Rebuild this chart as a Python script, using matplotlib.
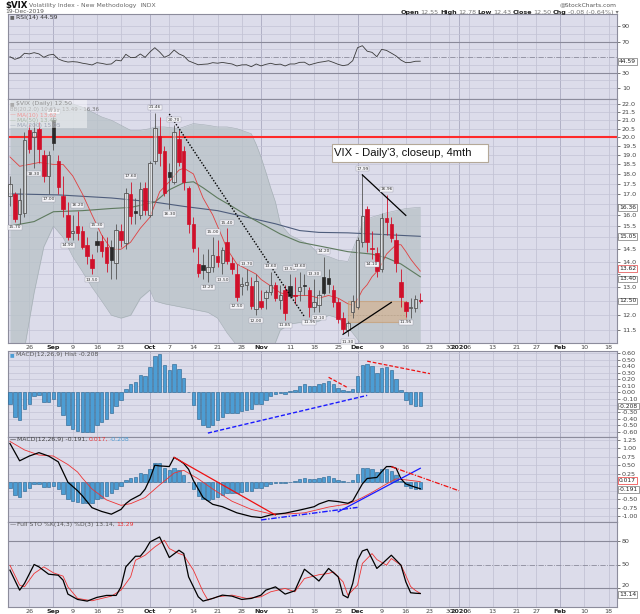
import numpy as np
import pandas as pd
import matplotlib
matplotlib.use("Agg")
import matplotlib.pyplot as plt
from matplotlib.patches import Rectangle
from matplotlib.ticker import NullLocator

# ---------------- calendar ----------------
first_day = "2019-08-20"
axis_end_day = "2020-02-21"
market_holidays = ["2019-09-02", "2019-11-28", "2019-12-25", "2020-01-01", "2020-01-20", "2020-02-17"]

# ---------------- $VIX daily candles, 20 Aug - 19 Dec 2019 ----------------
opens = [16.90, 17.00, 16.05, 16.10, 20.40, 20.00, 20.50, 19.00, 17.90, 21.00,
         18.70, 16.90, 16.00, 15.20, 15.50, 15.30, 14.70, 14.10, 14.85, 14.85,
         14.60, 14.60, 13.96, 15.30, 14.75, 17.00, 16.20, 16.00, 17.30, 16.00,
         18.70, 20.05, 19.20, 18.10, 17.60, 19.90, 19.20, 17.30, 15.60, 13.90,
         13.87, 13.60, 13.80, 14.22, 13.96, 14.80, 13.96, 13.50, 13.05, 13.10,
         13.05, 12.20, 12.50, 12.60, 12.83, 13.10, 12.55, 12.90, 13.06, 12.70,
         12.85, 13.10, 12.90, 12.30, 12.35, 13.40, 13.35, 12.90, 12.45, 11.90,
         11.50, 12.10, 12.30, 14.80, 16.30, 14.55, 14.35, 13.70, 15.85, 15.60,
         14.90, 13.20, 12.45, 12.25, 12.25, 12.55]
highs = [17.90, 17.10, 17.30, 20.30, 20.80, 20.90, 20.90, 19.30, 19.20, 21.20,
         19.00, 17.90, 16.60, 16.00, 16.20, 15.50, 15.00, 14.30, 15.30, 15.10,
         15.00, 14.90, 15.60, 15.60, 17.30, 17.60, 16.80, 17.60, 17.60, 18.70,
         21.46, 21.20, 19.50, 18.60, 20.70, 20.40, 19.50, 17.40, 15.90, 14.60,
         14.30, 14.50, 15.00, 14.90, 14.60, 15.40, 14.20, 13.90, 13.40, 13.70,
         13.40, 13.50, 12.90, 12.90, 13.60, 13.20, 13.10, 13.10, 13.50, 13.40,
         13.60, 13.50, 13.00, 13.30, 12.90, 14.20, 13.70, 13.10, 12.60, 12.10,
         11.80, 12.70, 15.00, 17.99, 16.40, 15.30, 14.60, 16.10, 16.96, 15.90,
         15.20, 13.70, 12.50, 12.60, 12.70, 12.78]
lows = [16.40, 15.70, 15.60, 15.90, 19.10, 18.30, 18.60, 17.60, 17.00, 19.30,
        17.00, 15.90, 14.90, 14.90, 14.90, 14.50, 13.90, 13.50, 14.40, 14.20,
        13.60, 13.30, 13.30, 14.60, 14.50, 15.60, 15.60, 15.80, 16.00, 15.90,
        18.50, 18.40, 16.90, 16.30, 17.50, 18.40, 17.20, 15.20, 14.40, 13.40,
        13.30, 13.20, 13.60, 13.80, 13.50, 13.90, 13.50, 12.50, 12.70, 12.90,
        12.20, 12.00, 12.20, 12.20, 12.70, 12.50, 12.20, 11.85, 12.60, 12.40,
        12.50, 12.70, 11.95, 12.10, 12.10, 12.70, 12.80, 12.30, 11.75, 11.40,
        11.30, 11.90, 12.20, 14.60, 14.40, 14.10, 13.40, 13.60, 15.10, 14.80,
        13.60, 12.30, 11.95, 11.90, 12.10, 12.43]
closes = [17.50, 15.80, 16.68, 19.87, 19.32, 20.31, 19.35, 17.88, 18.98, 19.66,
          17.33, 16.27, 15.00, 15.27, 15.20, 14.61, 14.22, 13.74, 14.67, 14.44,
          13.95, 14.05, 15.32, 14.91, 17.05, 15.96, 16.07, 17.22, 16.24, 18.56,
          20.56, 19.12, 17.04, 17.86, 20.28, 18.64, 17.57, 15.58, 14.57, 13.54,
          13.68, 13.79, 14.25, 14.00, 14.46, 14.01, 13.71, 12.65, 13.11, 13.20,
          12.33, 13.22, 12.30, 12.83, 13.10, 12.62, 12.73, 12.07, 12.69, 12.68,
          13.00, 13.05, 12.30, 12.46, 12.70, 12.78, 13.13, 12.45, 11.87, 11.54,
          11.75, 12.50, 14.91, 15.96, 14.80, 14.52, 13.62, 15.86, 15.68, 14.99,
          13.94, 12.63, 12.14, 12.29, 12.58, 12.50]

# ---------------- overlays (None = not read for that day) ----------------
N_ = None
ma10 = [18.9, N_, 18.4, N_, 18.5, N_, 18.6, N_, N_, 18.5,
        N_, 18.5, N_, 17.9, N_, 17.0, N_, 16.0, N_, 15.1,
        N_, 14.5, N_, 14.5, N_, 14.8, N_, 15.4, N_, 15.9,
        N_, 17.1, N_, 17.6, N_, 18.2, 18.3, N_, 18.0, N_,
        16.8, N_, 16.0, N_, 15.0, 14.5, N_, 13.9, N_, 13.7,
        N_, 13.5, 13.3, N_, 13.05, N_, 12.8, N_, 12.7, N_,
        12.7, N_, 12.7, N_, 12.6, N_, 12.7, N_, 12.6, N_,
        12.4, 12.35, 12.55, 12.9, 13.1, 13.4, 13.6, 13.9, 14.3, 14.5,
        14.69, 14.69, 14.41, 14.1, 13.85, 13.62]
ma50 = [15.5, N_, N_, N_, N_, 15.7, N_, N_, N_, 16.15,
        N_, N_, N_, N_, N_, 16.2, N_, N_, N_, N_,
        N_, 16.3, N_, N_, N_, 16.35, N_, N_, N_, N_,
        16.6, N_, N_, 17.2, N_, N_, 17.55, N_, 17.6, N_,
        17.3, N_, N_, 16.8, N_, N_, 16.4, N_, N_, N_,
        15.85, N_, N_, 15.5, N_, N_, 15.15, N_, N_, N_,
        14.8, N_, N_, N_, N_, 14.6, N_, N_, N_, N_,
        14.4, N_, N_, N_, N_, 14.3, N_, N_, 14.15, N_,
        N_, 13.9, N_, N_, N_, 13.4]
ma200 = [17.0, N_, N_, N_, N_, N_, N_, N_, N_, N_,
         16.95, N_, N_, N_, N_, N_, N_, N_, N_, N_,
         N_, 16.8, N_, N_, N_, N_, N_, N_, N_, N_,
         16.6, N_, N_, N_, N_, N_, 16.4, N_, N_, N_,
         N_, N_, N_, 16.2, N_, N_, N_, N_, N_, N_,
         15.85, N_, N_, N_, N_, 15.6, N_, N_, N_, N_,
         15.3, N_, N_, N_, 15.22, N_, N_, N_, N_, N_,
         15.2, N_, N_, N_, N_, N_, N_, N_, 15.12, N_,
         N_, N_, N_, N_, N_, 15.05]
bb_upper = [23.5, N_, N_, 23.2, N_, 23.0, N_, 22.6, N_, 22.3,
            N_, 22.2, N_, 22.0, N_, 21.8, N_, 21.5, N_, 21.2,
            N_, 21.0, N_, 20.7, N_, 20.4, N_, 20.4, N_, 20.5,
            20.6, N_, 20.6, N_, N_, 20.5, N_, N_, 20.8, N_,
            N_, 20.7, N_, 20.6, N_, 20.6, N_, 20.5, 20.4, N_,
            20.2, 19.6, 18.9, 18.1, 17.3, 16.6, 15.6, N_, 15.1, N_,
            14.9, N_, 14.7, N_, 14.3, N_, 14.2, N_, 14.05, N_,
            14.0, 14.5, 15.0, 15.6, 15.8, 15.9, N_, N_, 16.1, N_,
            N_, N_, 16.3, N_, N_, 16.36]
bb_lower = [10.2, N_, N_, 10.9, N_, 12.8, N_, 14.6, N_, 15.5,
            N_, 15.0, N_, 14.2, N_, 13.6, N_, 13.0, N_, 12.5,
            N_, 12.0, N_, 11.9, N_, 12.0, N_, 12.6, N_, 12.9,
            12.5, N_, 12.4, N_, N_, 12.3, N_, N_, 12.2, N_,
            N_, 12.1, N_, 11.9, N_, 11.4, N_, 11.0, 10.9, N_,
            10.5, 10.3, 10.2, 10.4, 10.8, 11.1, 11.5, N_, 11.7, N_,
            11.75, N_, 11.7, N_, 11.8, N_, 12.0, N_, 11.9, N_,
            11.6, 11.4, 11.2, 11.0, 10.8, 10.7, N_, N_, 10.5, N_,
            N_, N_, 10.5, N_, N_, 10.61]
resistance_level = 20.0

# ---------------- indicators ----------------
rsi = [50.4, 47.0, 49.0, 54.8, 54.0, 55.6, 54.0, 49.6, 52.5, 53.5,
       47.5, 45.0, 43.5, 44.0, 43.5, 42.0, 41.0, 39.7, 42.7, 41.8,
       40.5, 41.0, 46.0, 45.0, 53.5, 49.2, 49.6, 53.9, 49.6, 56.5,
       62.0, 56.5, 49.6, 52.5, 59.0, 54.0, 51.3, 45.0, 42.5, 40.0,
       40.6, 41.0, 42.7, 42.0, 43.0, 42.0, 41.0, 38.4, 39.8, 40.0,
       37.5, 41.0, 38.5, 40.5, 41.9, 40.3, 40.8, 38.4, 41.0, 41.0,
       43.1, 43.3, 39.7, 41.5, 43.1, 44.0, 45.2, 43.0, 40.5, 38.8,
       40.0, 45.2, 62.0, 64.6, 57.5, 56.0, 50.4, 59.9, 58.5, 55.0,
       51.3, 46.0, 42.7, 43.1, 44.5, 44.59]
macd_hist = [-0.17, -0.375, -0.425, -0.25, -0.17, -0.055, -0.04, -0.145, -0.14, -0.10,
             -0.21, -0.35, -0.50, -0.56, -0.59, -0.60, -0.60, -0.60, -0.50, -0.45,
             -0.40, -0.32, -0.21, -0.12, 0.055, 0.12, 0.155, 0.26, 0.25, 0.385,
             0.56, 0.58, 0.42, 0.345, 0.425, 0.36, 0.22, 0.005, -0.20, -0.40,
             -0.50, -0.53, -0.49, -0.42, -0.375, -0.32, -0.31, -0.32, -0.29, -0.265,
             -0.255, -0.18, -0.18, -0.12, -0.055, -0.03, -0.01, -0.02, 0.015, 0.04,
             0.09, 0.13, 0.09, 0.09, 0.13, 0.14, 0.17, 0.12, 0.07, 0.03,
             0.015, 0.055, 0.245, 0.41, 0.425, 0.395, 0.30, 0.375, 0.385, 0.335,
             0.21, 0.03, -0.11, -0.18, -0.21, -0.208]
macd_line = [1.14, N_, 0.63, N_, 0.77, N_, 0.87, N_, 0.77, N_,
             0.60, 0.30, 0.00, N_, -0.25, -0.40, N_, -0.75, N_, -0.86,
             N_, -0.94, N_, -0.80, -0.63, -0.52, N_, -0.37, -0.20, 0.10,
             0.50, 0.48, 0.47, 0.46, 0.73, 0.65, 0.55, 0.38, 0.05, -0.20,
             -0.45, -0.55, -0.65, N_, -0.72, N_, N_, -0.90, N_, N_,
             -1.01, N_, -1.04, N_, -0.96, N_, N_, -0.91, N_, N_,
             -0.82, N_, N_, -0.72, -0.64, N_, -0.54, N_, -0.57, N_,
             -0.62, -0.55, -0.30, -0.05, 0.11, N_, 0.14, 0.31, 0.46, 0.46,
             0.41, 0.10, -0.05, -0.10, -0.15, -0.191]
macd_signal = [1.20, N_, N_, 0.95, N_, N_, 0.80, N_, N_, 0.77,
               N_, N_, 0.52, N_, 0.30, 0.12, N_, -0.20, N_, N_,
               -0.52, N_, N_, -0.68, N_, -0.63, N_, N_, -0.45, N_,
               N_, -0.08, N_, N_, 0.27, N_, 0.35, N_, N_, 0.10,
               N_, N_, -0.20, N_, N_, N_, -0.56, N_, N_, N_,
               -0.80, N_, N_, N_, -0.93, N_, N_, N_, -0.93, N_,
               N_, -0.90, N_, N_, -0.80, N_, -0.73, N_, N_, N_,
               -0.64, N_, -0.52, -0.45, N_, -0.30, N_, N_, -0.05, N_,
               0.10, N_, 0.07, N_, N_, 0.017]
sto_k = [42.8, N_, 17.4, 25.9, N_, 50.0, 47.0, N_, 37.7, N_,
         36.4, 30.1, 12.4, N_, 5.6, N_, 3.5, N_, 8.2, N_,
         10.7, N_, 10.7, 21.6, 47.0, N_, 60.5, 60.5, 68.1, 78.6,
         N_, 85.0, N_, 58.9, N_, 68.1, 63.9, 34.3, N_, 9.0,
         3.5, N_, 6.9, N_, 11.1, N_, 9.8, N_, 5.6, N_,
         6.9, N_, 11.1, 17.4, N_, 21.6, N_, 12.4, N_, 16.6,
         N_, 44.0, N_, 34.3, 29.0, N_, 45.0, N_, 34.3, 11.1,
         7.7, 25.9, 55.4, 67.2, 69.4, N_, 45.0, 50.4, N_, 61.8,
         N_, 49.1, 28.0, 14.1, 13.5, 13.14]
sto_d = [49.0, N_, 23.8, 21.6, N_, 38.6, N_, 47.0, N_, 39.4,
         N_, 35.2, 21.6, N_, 6.9, N_, N_, 3.9, N_, 6.9,
         N_, 9.8, N_, 17.4, N_, 34.3, 55.4, N_, 61.8, N_,
         72.3, N_, 80.8, 70.3, N_, 63.9, 61.8, N_, 42.8, N_,
         15.3, 4.8, N_, 9.0, N_, N_, 11.1, N_, N_, 6.9,
         N_, N_, 9.0, N_, 15.3, N_, N_, 19.6, N_, 15.3,
         N_, 32.2, N_, N_, 37.0, N_, 38.6, 40.6, N_, 28.0,
         11.1, N_, 23.8, 51.3, N_, 63.9, 56.3, N_, 49.1, 57.6,
         N_, 49.1, 36.0, 22.0, 17.0, 13.29]

# ---------------- hand-drawn annotations (date, value) ----------------
main_dotted_trend = (["2019-10-07", "2019-11-14"], [21.38, 11.95])
main_upper_trend = (["2019-12-03", "2019-12-16"], [17.95, 15.98])
main_lower_trend = (["2019-11-26", "2019-12-11"], [11.36, 12.45])
main_zone = (["2019-11-27", "2019-12-16"], [11.76, 12.49])
hist_blue_trend = (["2019-10-17", "2019-12-04"], [-0.62, -0.046])
hist_red_short = (["2019-11-21", "2019-11-27"], [0.23, 0.07])
hist_red_long = (["2019-12-04", "2019-12-23"], [0.475, 0.285])
macd_red_trend = (["2019-10-08", "2019-11-06"], [0.73, -0.965])
macd_blue_dashdot = (["2019-11-01", "2019-12-02"], [-1.11, -0.74])
macd_blue_trend = (["2019-11-25", "2019-12-19"], [-0.87, 0.41])
macd_red_dashdot = (["2019-12-11", "2020-01-02"], [0.456, -0.25])

high_label_days = [9, 14, 18, 25, 30, 34, 42, 45, 49, 54, 58, 60, 63, 65, 73, 78]
low_label_days = [1, 5, 8, 12, 17, 33, 41, 44, 47, 51, 57, 62, 64, 70, 75, 82]

# ---------------- axis ticks ----------------
tick_dates = ["2019-08-26", "2019-09-03", "2019-09-09", "2019-09-16", "2019-09-23",
              "2019-10-01", "2019-10-07", "2019-10-14", "2019-10-21", "2019-10-28",
              "2019-11-01", "2019-11-11", "2019-11-18", "2019-11-25", "2019-12-02",
              "2019-12-09", "2019-12-16", "2019-12-23", "2019-12-30", "2020-01-02",
              "2020-01-06", "2020-01-13", "2020-01-21", "2020-01-27", "2020-02-03",
              "2020-02-10", "2020-02-18"]
tick_labels = ["26", "Sep", "9", "16", "23", "Oct", "7", "14", "21", "28", "Nov", "11",
               "18", "25", "Dec", "9", "16", "23", "30", "2020", "6", "13", "21", "27",
               "Feb", "10", "18"]
bold_labels = ["Sep", "Oct", "Nov", "Dec", "2020", "Feb"]
main_ticks = [11.5, 12.0, 12.5, 13.0, 13.5, 14.0, 14.5, 15.0, 15.5, 16.0, 16.5, 17.0,
              17.5, 18.0, 18.5, 19.0, 19.5, 20.0, 20.5, 21.0, 21.5, 22.0]
main_ticks_under_boxes = [12.5, 13.5, 15.0, 16.5]
rsi_ticks = [90, 70, 30, 10]
rsi_grid = [10, 20, 40, 60, 80, 90]
hist_ticks = [0.6, 0.5, 0.4, 0.3, 0.2, 0.1, 0.0, -0.1, -0.3, -0.4, -0.5, -0.6]
hist_grid = [0.6, 0.5, 0.4, 0.3, 0.2, 0.1, 0.0, -0.1, -0.2, -0.3, -0.4, -0.5, -0.6]
macd_ticks = [1.25, 1.0, 0.75, 0.5, 0.25, -0.5, -0.75, -1.0]
macd_grid = [1.25, 1.0, 0.75, 0.5, 0.25, 0.0, -0.25, -0.5, -0.75, -1.0]
sto_ticks = [80, 50, 20]

# ================= drawing =================
cal = pd.bdate_range(first_day, axis_end_day, freq="C", holidays=market_holidays)


def pos(d):
    return cal.get_loc(pd.Timestamp(d))


def pts(series):
    xs = [i for i, v in enumerate(series) if v is not None]
    return xs, [series[i] for i in xs]


W, H = 640, 614
fig = plt.figure(figsize=(W / 100, H / 100), dpi=100)
fig.patch.set_facecolor("white")


def rect(x0, y0, x1, y1):
    return [x0 / W, 1 - y1 / H, (x1 - x0) / W, (y1 - y0) / H]


BG = "#dcdcea"
GRID = "#c3c3d5"
GRID_M = "#a9a9bf"
TXT = "#444444"

ax_rsi = fig.add_axes(rect(8, 14, 617, 99))
ax_main = fig.add_axes(rect(8, 99, 617, 343))
ax_hist = fig.add_axes(rect(8, 351, 617, 437))
ax_macd = fig.add_axes(rect(8, 437, 617, 522))
ax_sto = fig.add_axes(rect(8, 522, 617, 607))
axes = [ax_rsi, ax_main, ax_hist, ax_macd, ax_sto]

tick_pos = [pos(d) for d in tick_dates]
n = len(closes)
x = np.arange(n)

for ax in axes:
    ax.set_facecolor(BG)
    ax.set_xlim(-0.41, 125.75)
    for s in ax.spines.values():
        s.set_color("#8c8c9c")
        s.set_linewidth(0.8)
    ax.yaxis.tick_right()
    ax.tick_params(axis="y", labelsize=4.6, colors=TXT, length=2, width=0.5, pad=1.5)
    ax.tick_params(axis="x", length=0, labelsize=4.6, colors=TXT, pad=1.2)
    for p, lab in zip(tick_pos, tick_labels):
        ax.axvline(p, color=GRID_M if lab in bold_labels else GRID, lw=0.6, zorder=0.5)
    ax.set_xticks(tick_pos)
    if ax in (ax_main, ax_sto):
        ax.set_xticklabels(tick_labels)
        for t in ax.get_xticklabels():
            if t.get_text() in bold_labels:
                t.set_fontweight("bold")
                t.set_color("#222222")
    else:
        ax.set_xticklabels([])

# ---------- RSI ----------
ax_rsi.set_ylim(-4.2, 105.5)
for lv in rsi_grid:
    ax_rsi.axhline(lv, color=GRID, lw=0.5, zorder=0.5)
for lv in [70, 30]:
    ax_rsi.axhline(lv, color="#8a8a9a", lw=0.8, zorder=0.6)
ax_rsi.axhline(50, color="#8a8a9a", lw=0.6, ls="-.", zorder=0.6)
ax_rsi.plot(x, rsi, color="#3a3a3a", lw=0.6, zorder=3)
ax_rsi.set_yticks(rsi_ticks)
ax_rsi.set_yticklabels([str(v) for v in rsi_ticks])

# ---------- main price ----------
ax_main.set_yscale("log")
ax_main.set_ylim(11.08, 22.32)
ax_main.set_yticks(main_ticks)
ax_main.set_yticklabels(["" if v in main_ticks_under_boxes else "%.1f" % v for v in main_ticks])
ax_main.yaxis.set_minor_locator(NullLocator())
for lv in main_ticks:
    ax_main.axhline(lv, color=GRID, lw=0.5, zorder=0.5)

bx, bu = pts(bb_upper)
_, bl = pts(bb_lower)
ax_main.fill_between(bx, bl, bu, color="#b8c2c7", alpha=0.75, lw=0, zorder=1)
ax_main.plot(bx, bu, color="#a3adb3", lw=0.4, zorder=1.1)
ax_main.plot(bx, bl, color="#a3adb3", lw=0.4, zorder=1.1)

ax_main.axhline(resistance_level, color="#ff2a2a", lw=1.5, zorder=2.5)

mx, my = pts(ma200)
ax_main.plot(mx, my, color="#4e5d7c", lw=0.8, zorder=2)
mx, my = pts(ma50)
ax_main.plot(mx, my, color="#5e7a5e", lw=0.8, zorder=2)
mx, my = pts(ma10)
ax_main.plot(mx, my, color="#e04040", lw=0.6, zorder=2.1)

RED = "#d0102a"
for i in range(n):
    o, h, l, c = opens[i], highs[i], lows[i], closes[i]
    prev = closes[i - 1] if i > 0 else o
    col = RED if c < prev else "#2a2a2a"
    wick = RED if c < prev else "#555555"
    ax_main.vlines(i, l, h, color=wick, lw=0.6, zorder=3)
    lo_b, hi_b = min(o, c), max(o, c)
    if hi_b - lo_b < 0.04:
        hi_b = lo_b + 0.04
    if c > o:
        ax_main.bar(i, hi_b - lo_b, bottom=lo_b, width=0.72, facecolor=(1, 1, 1, 0.45),
                    edgecolor=col if col == RED else "#555555", lw=0.6, zorder=3.2)
    else:
        ax_main.bar(i, hi_b - lo_b, bottom=lo_b, width=0.72, facecolor=col,
                    edgecolor=col, lw=0.5, zorder=3.2)

lab_box = dict(boxstyle="square,pad=0.12", fc="#f4f4f8", ec="#9a9aa8", lw=0.3)
for i in high_label_days:
    ax_main.annotate("%.2f" % highs[i], (i, highs[i]), xytext=(0, 2.5), textcoords="offset points",
                     ha="center", va="bottom", fontsize=3.2, color="#333", bbox=lab_box, zorder=6)
for i in low_label_days:
    ax_main.annotate("%.2f" % lows[i], (i, lows[i]), xytext=(0, -2.5), textcoords="offset points",
                     ha="center", va="top", fontsize=3.2, color="#333", bbox=lab_box, zorder=6)

zx = [pos(d) for d in main_zone[0]]
ax_main.add_patch(Rectangle((zx[0], main_zone[1][0]), zx[1] - zx[0], main_zone[1][1] - main_zone[1][0],
                            facecolor="#d8b088", alpha=0.6, edgecolor="#c89868", lw=0.8, zorder=2.6))
ax_main.plot([zx[0], zx[1]], [sum(main_zone[1]) / 2 - 0.12] * 2, color="#a08870", lw=0.4, ls=":", zorder=2.7)


def trend(ax, tr, **kw):
    ax.plot([pos(d) for d in tr[0]], tr[1], **kw)


trend(ax_main, main_dotted_trend, color="black", lw=1.0, ls=(0, (1, 1.2)), zorder=5)
trend(ax_main, main_upper_trend, color="black", lw=0.9, zorder=5)
trend(ax_main, main_lower_trend, color="black", lw=0.9, zorder=5)

# ---------- MACD histogram ----------
HFC, HEC = "#4c9dd4", "#245f8c"
ax_hist.set_ylim(-0.68, 0.63)
for lv in hist_grid:
    ax_hist.axhline(lv, color=GRID, lw=0.5, zorder=0.5)
ax_hist.bar(x, macd_hist, width=0.72, facecolor=HFC, edgecolor=HEC, lw=0.4, zorder=3)
ax_hist.set_yticks(hist_ticks)
ax_hist.set_yticklabels(["%.2f" % v for v in hist_ticks])
trend(ax_hist, hist_blue_trend, color="#1a1aff", lw=1.0, ls=(0, (3, 1.5)), zorder=5)
trend(ax_hist, hist_red_short, color="#ee1111", lw=0.9, ls=(0, (3, 1.5)), zorder=5)
trend(ax_hist, hist_red_long, color="#ee1111", lw=0.9, ls=(0, (3, 1.5)), zorder=5)

# ---------- MACD lines ----------
ax_macd.set_ylim(-1.17, 1.33)
for lv in macd_grid:
    ax_macd.axhline(lv, color=GRID, lw=0.5, zorder=0.5)
ax_macd.bar(x, macd_hist, width=0.72, facecolor=HFC, edgecolor=HEC, lw=0.4, zorder=2)
sx, sy = pts(macd_signal)
ax_macd.plot(sx, sy, color="#ee3333", lw=0.6, zorder=3)
mx, my = pts(macd_line)
ax_macd.plot(mx, my, color="black", lw=0.9, zorder=3.1)
ax_macd.set_yticks(macd_ticks)
ax_macd.set_yticklabels(["%.2f" % v for v in macd_ticks])
trend(ax_macd, macd_red_trend, color="#ee1111", lw=0.9, zorder=5)
trend(ax_macd, macd_blue_dashdot, color="#1a1aff", lw=1.0, ls=(0, (4, 1.2, 1, 1.2)), zorder=5)
trend(ax_macd, macd_blue_trend, color="#1a1aff", lw=0.9, zorder=5)
trend(ax_macd, macd_red_dashdot, color="#ee1111", lw=0.9, ls=(0, (4, 1.2, 1, 1.2)), zorder=5)

# ---------- Full STO ----------
ax_sto.set_ylim(-4, 104)
for lv in [80, 20]:
    ax_sto.axhline(lv, color="#8a8a9a", lw=0.8, zorder=0.6)
ax_sto.axhline(50, color="#8a8a9a", lw=0.6, ls="-.", zorder=0.6)
dx, dy = pts(sto_d)
ax_sto.plot(dx, dy, color="#ee3333", lw=0.6, zorder=3)
kx, ky = pts(sto_k)
ax_sto.plot(kx, ky, color="black", lw=0.9, zorder=3.1)
ax_sto.set_yticks(sto_ticks)
ax_sto.set_yticklabels([str(v) for v in sto_ticks])
ax_sto.get_yticklabels()[-1].set_va("bottom")


# ---------- right-edge value boxes ----------
def value_box(ax, y, text, ec="#777777", dy=0.0):
    ax.annotate(text, xy=(1.0, y), xycoords=("axes fraction", "data"), xytext=(1.5, dy),
                textcoords="offset points", ha="left", va="center", fontsize=4.3, color="#222",
                bbox=dict(boxstyle="square,pad=0.15", fc="white", ec=ec, lw=0.5),
                annotation_clip=False, zorder=10)


value_box(ax_rsi, rsi[-1], "%.2f" % rsi[-1])
value_box(ax_main, bb_upper[-1], "%.2f" % bb_upper[-1])
value_box(ax_main, ma200[-1], "%.2f" % ma200[-1])
value_box(ax_main, ma10[-1], "%.2f" % ma10[-1], ec="#e04040", dy=1.6)
value_box(ax_main, ma50[-1], "%.2f" % ma50[-1], dy=-1.6)
value_box(ax_main, closes[-1], "%.2f" % closes[-1])
value_box(ax_hist, macd_hist[-1], "%.3f" % macd_hist[-1])
value_box(ax_macd, macd_signal[-1], "%.3f" % macd_signal[-1], ec="#ee3333", dy=0.6)
value_box(ax_macd, macd_line[-1], "%.3f" % macd_line[-1], dy=-0.6)
value_box(ax_sto, sto_k[-1], "%.2f" % sto_k[-1], dy=-0.8)

# ---------- text ----------
fig.canvas.draw()
renderer = fig.canvas.get_renderer()


def chain(x_px, y_px, parts, align="left", gap=1.6, **common):
    items = parts if align == "left" else list(reversed(parts))
    xx = x_px
    for s, kw in items:
        opts = dict(common)
        opts.update(kw)
        t = fig.text(xx / W, 1 - y_px / H, s, ha=align, va="center", **opts)
        ext = t.get_window_extent(renderer)
        xx = ext.x1 + gap if align == "left" else ext.x0 - gap


chain(5, 5.5, [("$VIX", dict(fontsize=6.2, fontweight="bold", color="#111")),
               ("Volatility Index - New Methodology  INDX", dict(fontsize=4.4, color="#666"))])
fig.text(5 / W, 1 - 11.5 / H, "19-Dec-2019", fontsize=4.3, color="#555", va="center")
fig.text(617 / W, 1 - 4.5 / H, "@StockCharts.com", fontsize=4.3, color="#555", va="center", ha="right")
chain(619, 12.3, [("Open", dict(fontweight="bold", color="#222")), ("%.2f" % opens[-1], dict(color="#777")),
                  ("High", dict(fontweight="bold", color="#222")), ("%.2f" % highs[-1], dict(color="#777")),
                  ("Low", dict(fontweight="bold", color="#222")), ("%.2f" % lows[-1], dict(color="#777")),
                  ("Close", dict(fontweight="bold", color="#222")), ("%.2f" % closes[-1], dict(color="#777")),
                  ("Chg", dict(fontweight="bold", color="#222")),
                  ("%.2f (%.2f%%) \u25be" % (closes[-1] - closes[-2], (closes[-1] / closes[-2] - 1) * 100),
                   dict(color="#777"))],
      align="right", gap=1.4, fontsize=4.6)

chain(10, 17, [("\u25a0", dict(color="#666", fontsize=3.5)),
               ("RSI(14) %.2f" % rsi[-1], dict(color="#333"))], fontsize=4.4, gap=1.0)

# main legend
fig.patches.append(Rectangle((9 / W, 1 - 128 / H), 78 / W, 28 / H, transform=fig.transFigure,
                             facecolor="white", alpha=0.45, edgecolor="none", zorder=5))
chain(10, 103.5, [("\u25a0", dict(color="#666", fontsize=3.5)),
                  ("$VIX (Daily) %.2f" % closes[-1], dict(color="#333"))], fontsize=4.4, gap=1.0)
chain(10, 109.5, [("BB(20,2.0) %.2f - 13.49 - %.2f" % (bb_lower[-1], bb_upper[-1]), dict(color="#777"))],
      fontsize=4.0)
chain(10, 115, [("\u2014", dict(color="#e04040")), ("MA(10) %.2f" % ma10[-1], dict(color="#e04040"))],
      fontsize=4.2, gap=1.0)
chain(10, 120.5, [("\u2014", dict(color="#5e7a5e")), ("MA(50) %.2f" % ma50[-1], dict(color="#5e7a5e"))],
      fontsize=4.2, gap=1.0)
chain(10, 126, [("\u2014", dict(color="#4e5d7c")), ("MA(200) %.2f" % ma200[-1], dict(color="#4e5d7c"))],
      fontsize=4.2, gap=1.0)

chain(10, 354.5, [("\u25a0", dict(color="#4c9dd4", fontsize=3.5)),
                  ("MACD(12,26,9) Hist %.3f" % macd_hist[-1], dict(color="#555"))], fontsize=4.4, gap=1.0)
chain(10, 439.5, [("\u2014", dict(color="black")), ("MACD(12,26,9) %.3f," % macd_line[-1], dict(color="#444")),
                  ("%.3f," % macd_signal[-1], dict(color="#ee3333")),
                  ("%.3f" % macd_hist[-1], dict(color="#4c9dd4"))], fontsize=4.4, gap=1.2)
chain(10, 524.5, [("\u2014", dict(color="#444")), ("Full STO %K(14,3) %D(3) " + "%.2f," % sto_k[-1], dict(color="#555")),
                  ("%.2f" % sto_d[-1], dict(color="#ee3333"))], fontsize=4.4, gap=1.2)

# title box
fig.patches.append(Rectangle((332 / W, 1 - 162 / H), 155.5 / W, 18 / H, transform=fig.transFigure,
                             facecolor="white", edgecolor="#b4a898", lw=0.8, zorder=20))
fig.text(334.5 / W, 1 - 153 / H, "VIX - Daily'3, closeup, 4mth", fontsize=8.1,
         family=["Liberation Sans", "DejaVu Sans"], color="#111", va="center", ha="left", zorder=21)

fig.savefig("out.png", dpi=100)
